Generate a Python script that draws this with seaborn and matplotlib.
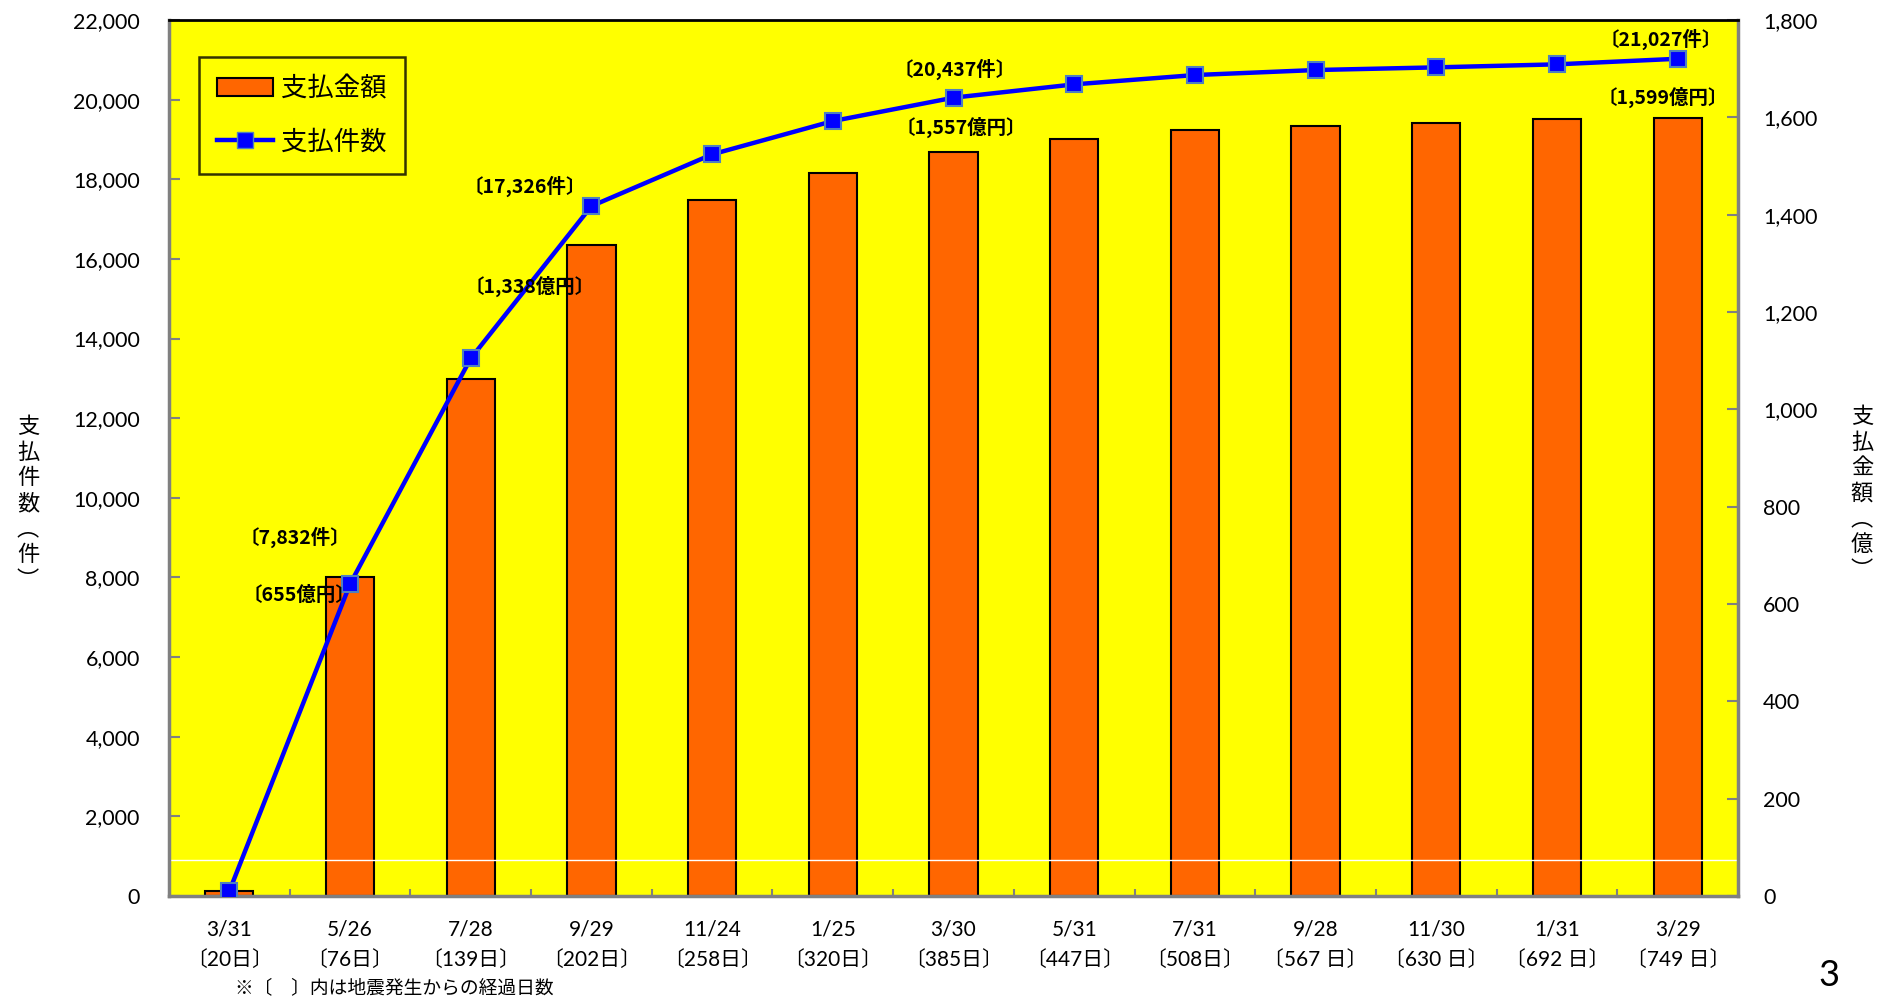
import numpy as np
import pandas as pd
import seaborn as sns
import matplotlib.pyplot as plt
from matplotlib.patches import Patch
from matplotlib.lines import Line2D
from matplotlib.ticker import FuncFormatter

# データ
dates = ['3/31', '5/26', '7/28', '9/29', '11/24', '1/25', '3/30',
         '5/31', '7/31', '9/28', '11/30', '1/31', '3/29']
days = ['〔20日〕', '〔76日〕', '〔139日〕', '〔202日〕', '〔258日〕', '〔320日〕',
        '〔385日〕', '〔447日〕', '〔508日〕', '〔567 日〕', '〔630 日〕',
        '〔692 日〕', '〔749 日〕']
amounts = [10, 655, 1063, 1338, 1430, 1486, 1529, 1556, 1574, 1582, 1588, 1596, 1599]
counts = [120, 7832, 13500, 17326, 18626, 19462, 20050, 20384, 20618, 20744,
          20811, 20887, 21027]

count_labels = ['〔7,832件〕', '〔17,326件〕', '〔20,437件〕', '〔21,027件〕']
amount_labels = ['〔655億円〕', '〔1,338億円〕', '〔1,557億円〕', '〔1,599億円〕']

df = pd.DataFrame({'date': dates, 'days': days, 'amount': amounts, 'count': counts})
df['x'] = np.arange(len(df))
df['xlabel'] = df['date'] + '\n' + df['days']

YELLOW = '#FFFF00'
ORANGE = '#FF6600'
GREY = '#808080'

plt.rcParams['font.family'] = ['Lato', 'Noto Sans CJK JP']
plt.rcParams['axes.unicode_minus'] = False

fig = plt.figure(figsize=(18.9, 10.01), dpi=100)
ax_bar = fig.add_axes([0.0894, 0.1049, 0.8302, 0.8751], facecolor=YELLOW)
ax_line = ax_bar.twinx()

# 棒グラフ（支払金額・右軸）
sns.barplot(data=df, x='x', y='amount', ax=ax_bar, color=ORANGE, saturation=1,
            width=0.4, edgecolor='black', linewidth=1.5, native_scale=True)
ax_bar.set_ylim(0, 1800)
ax_bar.yaxis.tick_right()
ax_bar.yaxis.set_label_position('right')
ax_bar.set_yticks(np.arange(0, 1801, 200))
ax_bar.yaxis.set_major_formatter(FuncFormatter(lambda v, p: f'{int(v):,}'))
ax_bar.set_ylabel('')
ax_bar.set_xlabel('')

# 折れ線（支払件数・左軸）
ax_line.yaxis.tick_left()
ax_line.axhline(912, color='white', lw=1, zorder=1)
sns.lineplot(data=df, x='x', y='count', ax=ax_line, color='#0000FF', lw=3.2,
             marker='s', markersize=12, markerfacecolor='#0000FF',
             markeredgecolor='#4F81BD', markeredgewidth=1.5, zorder=3)
ax_line.set_ylim(0, 22000)
ax_line.set_yticks(np.arange(0, 22001, 2000))
ax_line.yaxis.set_major_formatter(FuncFormatter(lambda v, p: f'{int(v):,}'))
ax_line.set_ylabel('')
ax_line.set_xlabel('')

ax_bar.set_xlim(-0.5, len(df) - 0.5)
ax_bar.set_xticks(df['x'])
ax_bar.set_xticklabels(df['xlabel'])
ax_bar.set_xticks(np.arange(0.5, len(df) - 1, 1), minor=True)
ax_bar.tick_params(axis='x', which='major', length=0, pad=17, labelsize=15)
ax_bar.tick_params(axis='x', which='minor', direction='in', length=5, width=1.5, color=GREY)
plt.setp(ax_bar.get_xticklabels(), linespacing=1.65)
ax_bar.tick_params(axis='y', direction='in', length=8, width=1.5, color=GREY,
                   pad=18, labelsize=15.5)
ax_line.tick_params(axis='y', direction='in', length=8, width=1.5, color=GREY,
                    pad=21, labelsize=15.5)

for a in (ax_bar, ax_line):
    for s in a.spines.values():
        s.set_visible(False)
for side in ('left', 'bottom', 'right'):
    ax_line.spines[side].set_visible(True)
    ax_line.spines[side].set_color(GREY)
    ax_line.spines[side].set_linewidth(2.5)
ax_line.spines['top'].set_visible(True)
ax_line.spines['top'].set_color('black')
ax_line.spines['top'].set_linewidth(2)

# データラベル
count_pos = [(0.54, 9010), (2.45, 17830), (6.01, 20770), (11.86, 21520)]
amount_pos = [(0.58, 7550), (2.49, 15320), (6.06, 19310), (11.88, 20065)]
for txt, (x, y) in zip(count_labels + amount_labels, count_pos + amount_pos):
    ax_line.text(x, y, txt, ha='center', va='center', fontsize=14,
                 fontweight='bold', family=['Noto Sans CJK JP'], zorder=5)

# 凡例
handles = [Patch(facecolor=ORANGE, edgecolor='black', linewidth=1.5),
           Line2D([], [], color='#0000FF', lw=3.2, marker='s', markersize=12,
                  markerfacecolor='#0000FF', markeredgecolor='#4F81BD')]
leg = ax_line.legend(handles, ['支払金額', '支払件数'], loc='upper left',
                     bbox_to_anchor=(0.019, 0.958), borderaxespad=0,
                     fancybox=False, frameon=True, edgecolor='black',
                     facecolor='none', handlelength=2.1,
                     handletextpad=0.3, labelspacing=1.0, borderpad=0.7,
                     prop={'family': ['Noto Sans CJK JP'], 'size': 19})
leg.get_frame().set_linewidth(1.8)

# 軸ラベル（縦書き）
fig.text(0.0148, 0.497, '\n'.join('支払件数︵件︶'), ha='center', va='center',
         fontsize=16, linespacing=1.15, family=['Noto Sans CJK JP'])
fig.text(0.9852, 0.507, '\n'.join('支払金額︵億︶'), ha='center', va='center',
         fontsize=16, linespacing=1.15, family=['Noto Sans CJK JP'])

fig.text(235 / 1890, 1 - 988 / 1001, '※〔　〕内は地震発生からの経過日数',
         ha='left', va='center', fontsize=13.5, family=['Noto Sans CJK JP'])
fig.text(1829 / 1890, 1 - 976 / 1001, '3', ha='center', va='center', fontsize=26)

fig.savefig('out.png', dpi=100)
